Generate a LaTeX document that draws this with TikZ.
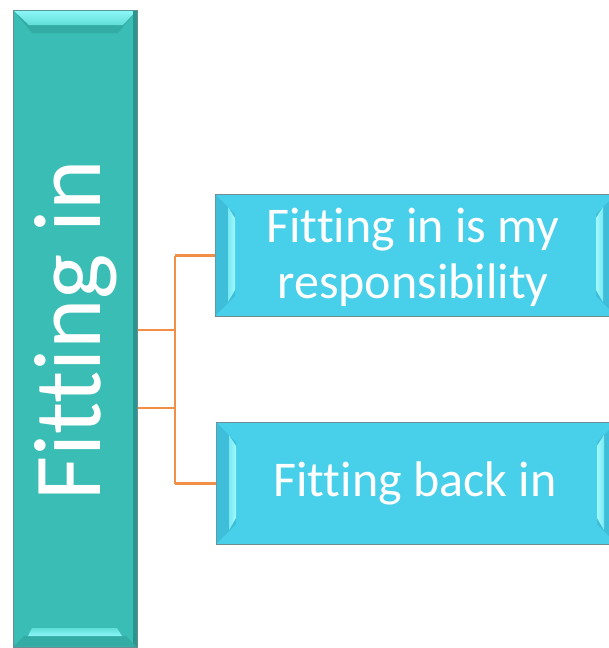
\documentclass[tikz,border=0pt]{standalone}
\usepackage{fontspec}
\setmainfont{Carlito}[Ligatures={CommonOff}]
\definecolor{tealmain}{RGB}{58,189,180}
\definecolor{tealdark}{RGB}{40,150,143}
\definecolor{tealband}{RGB}{50,172,164}
\definecolor{tealbright}{RGB}{140,246,246}
\definecolor{tealbright2}{RGB}{96,222,216}
\definecolor{cyanmain}{RGB}{72,207,234}
\definecolor{cyanband}{RGB}{62,190,216}
\definecolor{cyanbright}{RGB}{160,250,253}
\definecolor{cyanbright2}{RGB}{120,232,244}
\definecolor{edgegray}{RGB}{110,140,146}
\definecolor{connorange}{RGB}{241,142,72}
\tikzset{
  mainbox/.style={draw=edgegray, line width=1pt, fill=tealmain, inner sep=0pt, anchor=north west},
  subbox/.style={draw=edgegray, line width=1pt, fill=cyanmain, inner sep=0pt, anchor=north west},
  conn/.style={draw=connorange, line width=2.5pt},
  bigtext/.style={text=white, font=\fontsize{96}{96}\selectfont, inner sep=0pt},
  subtext/.style={text=white, font=\fontsize{50}{46}\selectfont, inner sep=0pt, anchor=base}
}
\begin{document}
\begin{tikzpicture}[x=1pt,y=-1pt]
\useasboundingbox (0,0) rectangle (608,648);
\fill[white] (0,0) rectangle (608,648);

% main box
\node[mainbox, minimum width=124pt, minimum height=637pt] (L) at (13,10) {};
% bevels of main box
\fill[tealband] (13.5,10.5) -- (136.5,10.5) -- (118,33) -- (32,33) -- cycle;
\shade[top color=tealbright, bottom color=tealbright2] (14,11) -- (136,11) -- (123,25) -- (29,25) -- cycle;
\fill[tealdark] (133,10.5) -- (136.5,10.5) -- (136.5,646.5) -- (133,646.5) -- cycle;
\fill[tealband] (24,636) -- (126,636) -- (136.5,646.5) -- (13.5,646.5) -- cycle;
\shade[top color=tealbright2, bottom color=tealbright] (32,628) -- (117,628) -- (122,636) -- (28,636) -- cycle;

% sub boxes
\node[subbox, minimum width=401pt, minimum height=122pt] (B1) at (215,194) {};
\node[subbox, minimum width=401pt, minimum height=122pt] (B2) at (216,422) {};

% bevels of sub boxes
\foreach \x/\y in {215/194, 216/422}{
  \fill[cyanband] (\x+0.5,\y+0.5) -- (\x+20,\y+20) -- (\x+20,\y+102) -- (\x+0.5,\y+121.5) -- cycle;
  \shade[left color=cyanbright2, right color=cyanbright] (\x+13,\y+13) -- (\x+20,\y+24) -- (\x+20,\y+96) -- (\x+13,\y+108) -- cycle;
  \fill[cyanband] (\x+400.5,\y+0.5) -- (\x+381,\y+20) -- (\x+381,\y+102) -- (\x+400.5,\y+121.5) -- cycle;
  \shade[left color=cyanbright, right color=cyanbright2] (\x+388,\y+13) -- (\x+381,\y+24) -- (\x+381,\y+96) -- (\x+388,\y+108) -- cycle;
}

% texts
\node[bigtext, rotate=90, anchor=base] (Lt) at (100,330) {Fitting in};
\node[subtext] (B1a) at (413,242) {Fitting in is my};
\node[subtext] (B1b) at (413,298) {responsibility};
\node[subtext] (B2a) at (415,496) {Fitting back in};

% connectors
\coordinate (yA) at (0,330);
\coordinate (yB) at (0,408);
\coordinate (jx) at (175,0);
\coordinate (jtop) at (jx |- B1.west);
\coordinate (jbot) at (jx |- B2.west);
\draw[conn] (L.east |- yA) -- (jx |- yA);
\draw[conn] (L.east |- yB) -- (jx |- yB);
\draw[conn] (jtop) -- (jbot);
\draw[conn] (jtop) -- (B1.west);
\draw[conn] (jbot) -- (B2.west);
\end{tikzpicture}
\end{document}
